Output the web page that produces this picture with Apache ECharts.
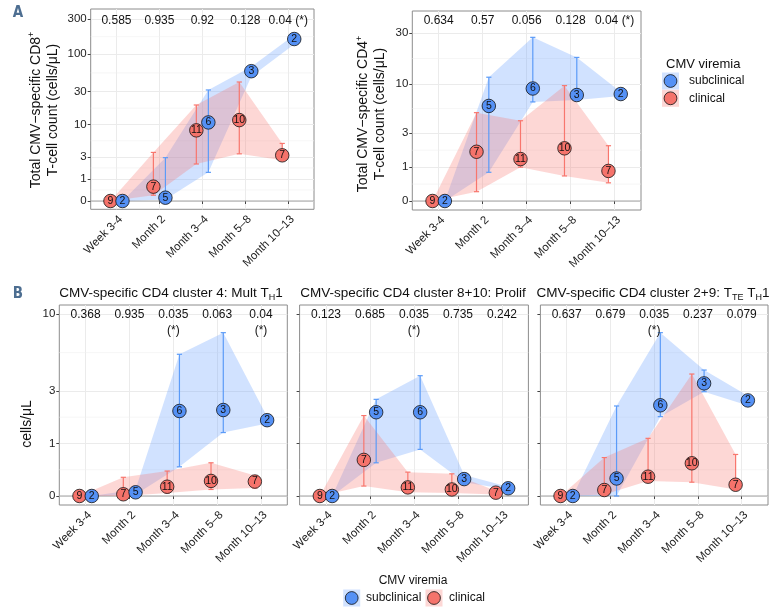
<!DOCTYPE html>
<html><head><meta charset="utf-8">
<script src="https://cdn.jsdelivr.net/npm/echarts@6/dist/echarts.min.js"></script>
<style>html,body{margin:0;padding:0;background:#fff}#c{width:777px;height:614px}</style>
</head><body><div id="c"></div>
<script>
// ---------- data ----------
const categories = ['Week 3-4', 'Month 2', 'Month 3\u20134', 'Month 5\u20138', 'Month 10\u201313'];
const nSubclinical = [2, 5, 6, 3, 2];
const nClinical = [9, 7, 11, 10, 7];

const ticksA1 = [0, 1, 3, 10, 30, 100, 300];
const ticksA2 = [0, 1, 3, 10, 30];
const ticksB = [0, 1, 3, 10];

// Panel A1: total CMV-specific CD8+
const a1SubMed = [0, 0.11, 10.8, 58, 161];
const a1SubLo = [0, 0.05, 1.46, 49, 137];
const a1SubHi = [0, 2.9, 31.7, 67, 183];
const a1ClinMed = [0, 0.57, 8.2, 11.7, 3.2];
const a1ClinLo = [0, 0.2, 2.2, 3.4, 2.6];
const a1ClinHi = [0, 3.6, 19.4, 41, 5.1];
const pA1 = ['0.585', '0.935', '0.92', '0.128', '0.04 (*)'];

// Panel A2: total CMV-specific CD4+
const a2SubMed = [0, 6.0, 9.0, 7.75, 7.93];
const a2SubLo = [0, 0.8, 6.6, 6.9, 7.6];
const a2SubHi = [0, 11.6, 27.5, 17.9, 8.3];
const a2ClinMed = [0, 1.74, 1.36, 1.94, 0.85];
const a2ClinLo = [0, 0.21, 1.0, 0.67, 0.45];
const a2ClinHi = [0, 5.1, 4.17, 9.6, 2.1];
const pA2 = ['0.634', '0.57', '0.056', '0.128', '0.04 (*)'];

// Panel B1: cluster 4
const b1SubMed = [0, 0.05, 2.07, 2.11, 1.72];
const b1SubLo = [0, 0.02, 0.47, 1.31, 1.6];
const b1SubHi = [0, 0.09, 5.49, 7.63, 1.85];
const b1ClinMed = [0, 0.023, 0.13, 0.22, 0.21];
const b1ClinLo = [0, 0.0, 0.04, 0.09, 0.11];
const b1ClinHi = [0, 0.28, 0.39, 0.55, 0.31];
const pB1 = ['0.368', '0.935', '0.035\n(*)', '0.063', '0.04\n(*)'];

// Panel B2: cluster 8+10
const b2SubMed = [0, 2.02, 2.02, 0.25, 0.107];
const b2SubLo = [0, 0.55, 0.85, 0.2, 0.09];
const b2SubHi = [0, 2.58, 3.89, 0.32, 0.13];
const b2ClinMed = [0, 0.61, 0.12, 0.09, 0.045];
const b2ClinLo = [0, 0.14, 0.05, 0.04, 0.02];
const b2ClinHi = [0, 1.89, 0.37, 0.34, 0.07];
const pB2 = ['0.123', '0.685', '0.035\n(*)', '0.735', '0.242'];

// Panel B3: cluster 2+9
const b3SubMed = [0, 0.26, 2.31, 3.42, 2.53];
const b3SubLo = [0, 0, 1.85, 2.96, 2.3];
const b3SubHi = [0, 2.28, 7.63, 4.27, 2.75];
const b3ClinMed = [0, 0.082, 0.29, 0.54, 0.16];
const b3ClinLo = [0, 0.02, 0.22, 0.2, 0.09];
const b3ClinHi = [0, 0.66, 1.14, 4.0, 0.73];
const pB3 = ['0.637', '0.679', '0.035\n(*)', '0.237', '0.079'];

// ---------- styling / layout ----------
const FONT = "'Liberation Sans', Arial, sans-serif";
const BLUE = '#5591F5', RED = '#F5736B';
const BLUE_BAR = '#5B9BF8', RED_BAR = '#F8766D';
const BLUE_FILL = 'rgba(97,156,255,0.29)', RED_FILL = 'rgba(248,118,109,0.29)';
const DODGE = 0.14;
const tr = v => Math.log10(v + 1);

const panels = [
  { grid: { left: 90.7, top: 9, width: 223.3, height: 200.3 }, ymin: -0.113, ymax: 2.619, ticks: ticksA1, labels: true,
    sub: [a1SubMed, a1SubLo, a1SubHi], clin: [a1ClinMed, a1ClinLo, a1ClinHi], p: pA1, pTop: 3.8 },
  { grid: { left: 412.3, top: 11, width: 228.7, height: 199 }, ymin: -0.08, ymax: 1.689, ticks: ticksA2, labels: true,
    sub: [a2SubMed, a2SubLo, a2SubHi], clin: [a2ClinMed, a2ClinLo, a2ClinHi], p: pA2, pTop: 1.8 },
  { grid: { left: 59.3, top: 305, width: 228, height: 200 }, ymin: -0.0516, ymax: 1.0946, ticks: ticksB, labels: true,
    sub: [b1SubMed, b1SubLo, b1SubHi], clin: [b1ClinMed, b1ClinLo, b1ClinHi], p: pB1, pTop: 2.2 },
  { grid: { left: 299.6, top: 305, width: 228.8, height: 200 }, ymin: -0.0516, ymax: 1.0946, ticks: ticksB, labels: false,
    sub: [b2SubMed, b2SubLo, b2SubHi], clin: [b2ClinMed, b2ClinLo, b2ClinHi], p: pB2, pTop: 2.2 },
  { grid: { left: 540.4, top: 305, width: 227.6, height: 200 }, ymin: -0.0516, ymax: 1.0946, ticks: ticksB, labels: false,
    sub: [b3SubMed, b3SubLo, b3SubHi], clin: [b3ClinMed, b3ClinLo, b3ClinHi], p: pB3, pTop: 2.2 }
];

const grids = [], xAxes = [], yAxes = [], series = [];
const xPos = [1, 2, 3, 4, 5];

panels.forEach((pn, gi) => {
  grids.push(Object.assign({ show: true, borderColor: '#8c8c8c', borderWidth: 1, backgroundColor: '#fff', containLabel: false, outerBoundsMode: 'none' }, pn.grid));
  xAxes.push({
    type: 'value', gridIndex: gi, min: 0.4, max: 5.6,
    axisLine: { show: false },
    axisTick: { show: true, length: 3, customValues: xPos, lineStyle: { color: '#444', width: 1 } },
    axisLabel: { customValues: xPos, formatter: v => categories[Math.round(v) - 1], rotate: 45, margin: 4,
      align: 'right', verticalAlign: 'top',
      fontSize: 11.5, color: '#222', fontFamily: FONT },
    splitLine: { show: true, lineStyle: { color: '#ebebeb', width: 1 } }
  });
  const tv = pn.ticks.map(tr);
  yAxes.push({
    type: 'value', gridIndex: gi, min: pn.ymin, max: pn.ymax,
    axisLine: { show: false },
    axisTick: { show: true, length: 3, customValues: tv, lineStyle: { color: '#444', width: 1 } },
    axisLabel: { show: pn.labels, customValues: tv, formatter: v => String(Math.round(Math.pow(10, v) - 1)),
      margin: 4, fontSize: 11.5, color: '#222', fontFamily: FONT },
    splitLine: { show: true, lineStyle: { color: '#ebebeb', width: 1 } }
  });
  const minor = [];
  for (let k = 0; k < tv.length - 1; k++) minor.push((tv[k] + tv[k + 1]) / 2);

  // minor grid + zero line
  series.push({
    type: 'custom', xAxisIndex: gi, yAxisIndex: gi, z: 1, silent: true, data: [[1, 0]],
    renderItem: (params, api) => {
      const cs = params.coordSys;
      const ch = minor.map(v => {
        const y = api.coord([1, v])[1];
        return { type: 'line', shape: { x1: cs.x, y1: y, x2: cs.x + cs.width, y2: y }, style: { stroke: '#f0f0f0', lineWidth: 0.6 } };
      });
      const y0 = api.coord([1, 0])[1];
      ch.push({ type: 'line', shape: { x1: cs.x, y1: y0, x2: cs.x + cs.width, y2: y0 }, style: { stroke: '#a3a3a3', lineWidth: 1 } });
      return { type: 'group', children: ch };
    }
  });

  const groups = [
    { d: pn.sub, n: nSubclinical, off: DODGE, fill: BLUE_FILL, bar: BLUE_BAR, pt: BLUE, z: 6 },
    { d: pn.clin, n: nClinical, off: -DODGE, fill: RED_FILL, bar: RED_BAR, pt: RED, z: 5 }
  ];
  // ribbons
  groups.forEach(g => {
    const [med, lo, hi] = g.d;
    series.push({
      type: 'custom', xAxisIndex: gi, yAxisIndex: gi, z: 2, silent: true, data: [[1, 0]],
      renderItem: (params, api) => {
        const up = hi.map((v, i) => api.coord([i + 1 + g.off, tr(v)]));
        const dn = lo.map((v, i) => api.coord([i + 1 + g.off, tr(v)])).reverse();
        return { type: 'polygon', shape: { points: up.concat(dn) }, style: { fill: g.fill } };
      }
    });
  });
  // error bars
  groups.forEach(g => {
    const [med, lo, hi] = g.d;
    series.push({
      type: 'custom', xAxisIndex: gi, yAxisIndex: gi, z: 3, silent: true,
      data: lo.map((v, i) => [i + 1 + g.off, tr(v), tr(hi[i])]),
      encode: { x: 0, y: [1, 2] },
      renderItem: (params, api) => {
        const a = api.coord([api.value(0), api.value(1)]);
        const b = api.coord([api.value(0), api.value(2)]);
        const w = 2.6, st = { stroke: g.bar, lineWidth: 1.2 };
        return { type: 'group', children: [
          { type: 'line', shape: { x1: a[0], y1: a[1], x2: b[0], y2: b[1] }, style: st },
          { type: 'line', shape: { x1: a[0] - w, y1: a[1], x2: a[0] + w, y2: a[1] }, style: st },
          { type: 'line', shape: { x1: b[0] - w, y1: b[1], x2: b[0] + w, y2: b[1] }, style: st }
        ] };
      }
    });
  });
  // points (clinical first, subclinical on top)
  [groups[1], groups[0]].forEach(g => {
    const [med] = g.d;
    series.push({
      type: 'scatter', xAxisIndex: gi, yAxisIndex: gi, z: g.z, silent: true,
      symbol: 'circle', symbolSize: 13.5,
      data: med.map((v, i) => [i + 1 + g.off, tr(v), g.n[i]]),
      itemStyle: { color: g.pt, borderColor: '#111', borderWidth: 0.8, opacity: 1 },
      label: { show: true, position: 'inside', formatter: p => String(p.value[2]), fontSize: 10.5, color: '#111', fontFamily: FONT }
    });
  });
  // p-values at the top
  series.push({
    type: 'custom', xAxisIndex: gi, yAxisIndex: gi, z: 8, silent: true,
    data: pn.p.map((s, i) => [i + 1, 0]),
    renderItem: (params, api) => {
      const x = api.coord([api.value(0), 0])[0];
      return { type: 'text', style: { text: pn.p[params.dataIndex], x: x, y: params.coordSys.y + pn.pTop,
        align: 'center', verticalAlign: 'top', fontSize: 12, lineHeight: 15.7, fill: '#111', fontFamily: FONT } };
    }
  });
});

const titleRich = { sub: { fontSize: 9, lineHeight: 9, verticalAlign: 'bottom', fontFamily: FONT, color: '#111' } };
const titles = [
  { text: 'CMV-specific CD4 cluster 4: Mult T{sub|H}1', left: 171 },
  { text: 'CMV-specific CD4 cluster 8+10: Prolif', left: 413 },
  { text: 'CMV-specific CD4 cluster 2+9: T{sub|TE} T{sub|H}1', left: 653 }
].map(t => ({ text: t.text, left: t.left, top: 284, textAlign: 'center', padding: 0,
  textStyle: { fontSize: 13.5, fontWeight: 'normal', color: '#111', fontFamily: FONT, lineHeight: 18, rich: titleRich } }));

const supRich = { sup: { fontSize: 9, lineHeight: 9, verticalAlign: 'top', fontFamily: FONT, fill: '#111' } };
const txt = (x, y, text, extra) => ({ type: 'text', x: x, y: y, silent: true,
  style: Object.assign({ text: text, fontSize: 12, fontFamily: FONT, fill: '#111', align: 'left', verticalAlign: 'middle' }, extra || {}) });

const graphic = [
  txt(18, 13, 'A', { fontSize: 15, fontWeight: 'bold', fill: '#4d6e91', align: 'center', fontFamily: "'Liberation Sans Narrow', 'DejaVu Sans Condensed', sans-serif" }),
  txt(18, 294.5, 'B', { fontSize: 15, fontWeight: 'bold', fill: '#4d6e91', align: 'center', fontFamily: "'Liberation Sans Narrow', 'DejaVu Sans Condensed', sans-serif" }),
  Object.assign(txt(44.5, 110, 'Total CMV\u2212specific CD8{sup|+}\nT-cell count (cells/\u03bcL)',
    { fontSize: 14, lineHeight: 17, align: 'center', rich: supRich }), { rotation: Math.PI / 2 }),
  Object.assign(txt(371.7, 114, 'Total CMV\u2212specific CD4{sup|+}\nT-cell count (cells/\u03bcL)',
    { fontSize: 14, lineHeight: 17, align: 'center', rich: supRich }), { rotation: Math.PI / 2 }),
  Object.assign(txt(27.5, 424, 'cells/\u03bcL', { fontSize: 14, align: 'center' }), { rotation: Math.PI / 2 }),
  // right legend
  txt(666, 64, 'CMV viremia', { fontSize: 13 }),
  { type: 'rect', shape: { x: 662, y: 72.5, width: 17, height: 17 }, style: { fill: BLUE_FILL } },
  { type: 'circle', shape: { cx: 670.5, cy: 81, r: 6.4 }, style: { fill: BLUE, stroke: '#111', lineWidth: 0.8 } },
  txt(689, 81, 'subclinical'),
  { type: 'rect', shape: { x: 662, y: 89.8, width: 17, height: 17 }, style: { fill: RED_FILL } },
  { type: 'circle', shape: { cx: 670.5, cy: 98.3, r: 6.4 }, style: { fill: RED, stroke: '#111', lineWidth: 0.8 } },
  txt(689, 98.3, 'clinical'),
  // bottom legend
  txt(413, 581, 'CMV viremia', { align: 'center' }),
  { type: 'rect', shape: { x: 343.2, y: 589.5, width: 17, height: 17 }, style: { fill: BLUE_FILL } },
  { type: 'circle', shape: { cx: 351.7, cy: 598, r: 6.4 }, style: { fill: BLUE, stroke: '#111', lineWidth: 0.8 } },
  txt(366, 598, 'subclinical'),
  { type: 'rect', shape: { x: 425.5, y: 589.5, width: 17, height: 17 }, style: { fill: RED_FILL } },
  { type: 'circle', shape: { cx: 434, cy: 598, r: 6.4 }, style: { fill: RED, stroke: '#111', lineWidth: 0.8 } },
  txt(449, 598, 'clinical')
];

const chart = echarts.init(document.getElementById('c'), null, { renderer: 'canvas' });
chart.setOption({
  animation: false,
  backgroundColor: '#fff',
  title: titles,
  grid: grids,
  xAxis: xAxes,
  yAxis: yAxes,
  series: series,
  graphic: graphic
});
</script>
</body></html>
